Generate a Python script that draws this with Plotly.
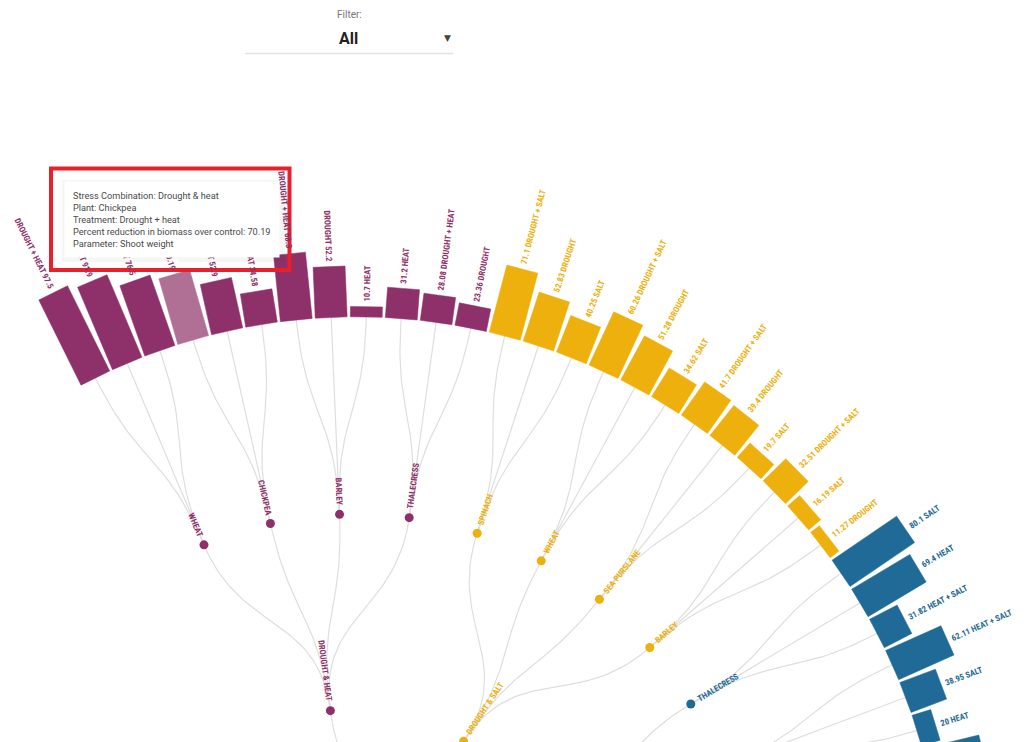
import math
import plotly.graph_objects as go

# ---------------- data ----------------
stress_names = ["Drought & heat", "Drought & salt", "Heat & salt"]
stress_colors = ["#8E316B", "#EDB00C", "#1F6A96"]
highlight_color = "#B07096"

leaf_stress = [0] * 12 + [1] * 12 + [2] * 7
leaf_plant = (["Wheat"] * 3 + ["Chickpea"] * 3 + ["Barley"] * 3 + ["Thalecress"] * 3
              + ["Spinach"] * 3 + ["Wheat"] * 3 + ["Sea purslane"] * 3 + ["Barley"] * 3
              + ["Thalecress"] * 3 + ["Barley"] * 3 + ["Wheat"] * 1)
leaf_treatment = [
    "Drought + heat", "Drought", "Heat",
    "Drought + heat", "Drought", "Heat",
    "Drought + heat", "Drought", "Heat",
    "Heat", "Drought + heat", "Drought",
    "Drought + salt", "Drought", "Salt",
    "Drought + salt", "Drought", "Salt",
    "Drought + salt", "Drought", "Salt",
    "Drought + salt", "Salt", "Drought",
    "Salt", "Heat", "Heat + salt",
    "Heat + salt", "Salt", "Heat",
    "Heat + salt",
]
leaf_value = [
    97.5, 91.9, 76.5,
    70.19, 52.9, 34.58,
    68.3, 52.2, 10.7,
    31.2, 28.08, 23.36,
    71.1, 52.83, 40.25,
    60.26, 51.28, 34.62,
    41.7, 39.4, 19.7,
    32.51, 16.19, 11.27,
    80.1, 69.4, 31.82,
    62.11, 38.95, 20,
    59.6,
]
hovered = ("Drought & heat", "Chickpea", "Drought + heat")
hover_parameter = "Shoot weight"
filter_label = "Filter:"
filter_value = "All"

# ---------------- layout parameters ----------------
W, H = 1034, 742
CX, CY = 356, 904          # screen position of the tree root
R_LEAF, R_PLANT, R_STRESS = 587, 390, 195
ANGLE0, STEP = -26.36, 3.42  # degrees, clockwise from vertical
BAR_SCALE = 0.975
BAR_W = 32
LINK_COLOR = "#DEDEDE"
LABEL_FONT = "Roboto Condensed, Liberation Sans Narrow, DejaVu Sans Condensed, Arial Narrow, sans-serif"
LABEL_SIZE = 8.5


def polar(theta, r):
    t = math.radians(theta)
    return r * math.sin(t), r * math.cos(t)


def px(x):
    return x / W


def py(y):
    return 1 - y / H


# ---------------- tree layout (cluster) ----------------
n_leaf = len(leaf_value)
leaf_angle = [ANGLE0 + i * STEP for i in range(n_leaf)]

plant_keys = []
for s, p in zip(leaf_stress, leaf_plant):
    if (s, p) not in plant_keys:
        plant_keys.append((s, p))
plant_angle = {}
for k in plant_keys:
    angs = [leaf_angle[i] for i in range(n_leaf) if (leaf_stress[i], leaf_plant[i]) == k]
    plant_angle[k] = sum(angs) / len(angs)
stress_angle = {}
for s in range(len(stress_names)):
    angs = [plant_angle[k] for k in plant_keys if k[0] == s]
    stress_angle[s] = sum(angs) / len(angs)
root_angle = sum(stress_angle.values()) / len(stress_angle)


def link(a0, r0, a1, r1, n=40):
    rm = (r0 + r1) / 2
    p0, p1, p2, p3 = polar(a0, r0), polar(a0, rm), polar(a1, rm), polar(a1, r1)
    xs, ys = [], []
    for j in range(n + 1):
        t = j / n
        b = [(1 - t) ** 3, 3 * (1 - t) ** 2 * t, 3 * (1 - t) * t ** 2, t ** 3]
        xs.append(b[0] * p0[0] + b[1] * p1[0] + b[2] * p2[0] + b[3] * p3[0])
        ys.append(b[0] * p0[1] + b[1] * p1[1] + b[2] * p2[1] + b[3] * p3[1])
    return xs, ys


fig = go.Figure()

# links
lx, ly = [], []
for s in stress_angle:
    xs, ys = link(root_angle, 0, stress_angle[s], R_STRESS)
    lx += xs + [None]
    ly += ys + [None]
for k in plant_keys:
    xs, ys = link(stress_angle[k[0]], R_STRESS, plant_angle[k], R_PLANT)
    lx += xs + [None]
    ly += ys + [None]
for i in range(n_leaf):
    k = (leaf_stress[i], leaf_plant[i])
    xs, ys = link(plant_angle[k], R_PLANT, leaf_angle[i], R_LEAF)
    lx += xs + [None]
    ly += ys + [None]
fig.add_trace(go.Scatter(x=lx, y=ly, mode="lines", line=dict(color=LINK_COLOR, width=1.2),
                         hoverinfo="skip", showlegend=False))

# bars
for i in range(n_leaf):
    th = leaf_angle[i]
    t = math.radians(th)
    L = leaf_value[i] * BAR_SCALE
    bx, by = polar(th, R_LEAF)
    tx, ty = polar(th, R_LEAF + L)
    ux, uy = math.cos(t) * BAR_W / 2, -math.sin(t) * BAR_W / 2
    xs = [bx + ux, tx + ux, tx - ux, bx - ux, bx + ux]
    ys = [by + uy, ty + uy, ty - uy, by - uy, by + uy]
    key = (stress_names[leaf_stress[i]], leaf_plant[i], leaf_treatment[i])
    col = highlight_color if key == hovered else stress_colors[leaf_stress[i]]
    fig.add_trace(go.Scatter(x=xs, y=ys, mode="lines", fill="toself", fillcolor=col,
                             line=dict(color=col, width=0.5), hoverinfo="skip", showlegend=False))

# nodes
nx, ny, nc = [], [], []
for k in plant_keys:
    x, y = polar(plant_angle[k], R_PLANT)
    nx.append(x); ny.append(y); nc.append(stress_colors[k[0]])
for s in stress_angle:
    x, y = polar(stress_angle[s], R_STRESS)
    nx.append(x); ny.append(y); nc.append(stress_colors[s])
fig.add_trace(go.Scatter(x=nx, y=ny, mode="markers", marker=dict(size=9, color=nc),
                         hoverinfo="skip", showlegend=False))

annotations = []


def radial_label(text, theta, r_start, color, size=LABEL_SIZE):
    h = size * 1.2
    x, y = polar(theta, r_start)
    t = math.radians(theta)
    if theta >= 0:
        qx = x - (h / 2) * math.cos(t)
        qy = y - (h / 2) * math.sin(t)
        annotations.append(dict(x=qx, y=qy, xref="x", yref="y", text=text, showarrow=False,
                                xanchor="left", yanchor="bottom", textangle=theta - 90,
                                borderpad=0, borderwidth=0,
                                font=dict(family=LABEL_FONT, size=size, color=color, weight="bold")))
    else:
        phi = math.radians(theta + 90)
        qx = x + (h / 2) * math.sin(phi)
        qy = y - (h / 2) * math.cos(phi)
        annotations.append(dict(x=qx, y=qy, xref="x", yref="y", text=text, showarrow=False,
                                xanchor="right", yanchor="bottom", textangle=theta + 90,
                                borderpad=0, borderwidth=0,
                                font=dict(family=LABEL_FONT, size=size, color=color, weight="bold")))


for i in range(n_leaf):
    th = leaf_angle[i]
    v = f"{leaf_value[i]:g}"
    tr = leaf_treatment[i].upper()
    txt = f"{v} {tr}" if th >= 0 else f"{tr} {v}"
    radial_label(txt, th, R_LEAF + leaf_value[i] * BAR_SCALE + 5, stress_colors[leaf_stress[i]])

for k in plant_keys:
    radial_label(k[1].upper(), plant_angle[k], R_PLANT + 9, stress_colors[k[0]])
for s in stress_angle:
    radial_label(stress_names[s].upper(), stress_angle[s], R_STRESS + 9, stress_colors[s])

# tooltip for hovered bar
hi = [i for i in range(n_leaf)
      if (stress_names[leaf_stress[i]], leaf_plant[i], leaf_treatment[i]) == hovered][0]
tip = (f"Stress Combination: {hovered[0]}<br>Plant: {hovered[1]}<br>Treatment: {hovered[2]}"
       f"<br>Percent reduction in biomass over control: {leaf_value[hi]:g}<br>Parameter: {hover_parameter}")
annotations.append(dict(x=px(64), y=py(181), xref="paper", yref="paper", text=tip, showarrow=False,
                        xanchor="left", yanchor="top", align="left", bgcolor="white",
                        bordercolor="rgba(0,0,0,0)", borderwidth=1, borderpad=8,
                        font=dict(family="Roboto, sans-serif", size=9.2, color="#4a4a4a")))
annotations.append(dict(x=px(175), y=py(262), xref="paper", yref="paper", text="▼", showarrow=False,
                        xanchor="center", yanchor="middle",
                        font=dict(family="DejaVu Sans", size=9, color="white")))

# filter control
annotations.append(dict(x=px(349), y=py(15), xref="paper", yref="paper", text=filter_label,
                        showarrow=False, xanchor="center", yanchor="middle",
                        font=dict(family="Roboto, sans-serif", size=10, color="#777777")))
annotations.append(dict(x=px(348), y=py(38), xref="paper", yref="paper", text=f"<b>{filter_value}</b>",
                        showarrow=False, xanchor="center", yanchor="middle",
                        font=dict(family="Roboto, sans-serif", size=16, color="#212121")))
annotations.append(dict(x=px(447), y=py(38), xref="paper", yref="paper", text="▼",
                        showarrow=False, xanchor="center", yanchor="middle",
                        font=dict(family="DejaVu Sans", size=9, color="#444444")))

shapes = [
    dict(type="line", xref="paper", yref="paper", x0=px(245), x1=px(453), y0=py(53.5), y1=py(53.5),
         line=dict(color="#E2E2E2", width=1.5), layer="above"),
    dict(type="rect", xref="paper", yref="paper", x0=px(62), x1=px(285), y0=py(180), y1=py(262),
         fillcolor="rgba(0,0,0,0.04)", line=dict(width=0), layer="above"),
    dict(type="rect", xref="paper", yref="paper", x0=px(51), x1=px(289.5), y0=py(168.5), y1=py(270),
         line=dict(color="#E8202A", width=4), fillcolor="rgba(0,0,0,0)", layer="above"),
]

fig.update_layout(
    width=W, height=H, margin=dict(l=0, r=0, t=0, b=0),
    paper_bgcolor="white", plot_bgcolor="white",
    xaxis=dict(range=[-CX, W - CX], visible=False, fixedrange=True),
    yaxis=dict(range=[CY - H, CY], visible=False, fixedrange=True),
    annotations=annotations, shapes=shapes, showlegend=False,
)

fig.write_html("out.html", config={"displayModeBar": False},
               post_script="document.body.style.margin='0';document.body.style.overflow='hidden';")
